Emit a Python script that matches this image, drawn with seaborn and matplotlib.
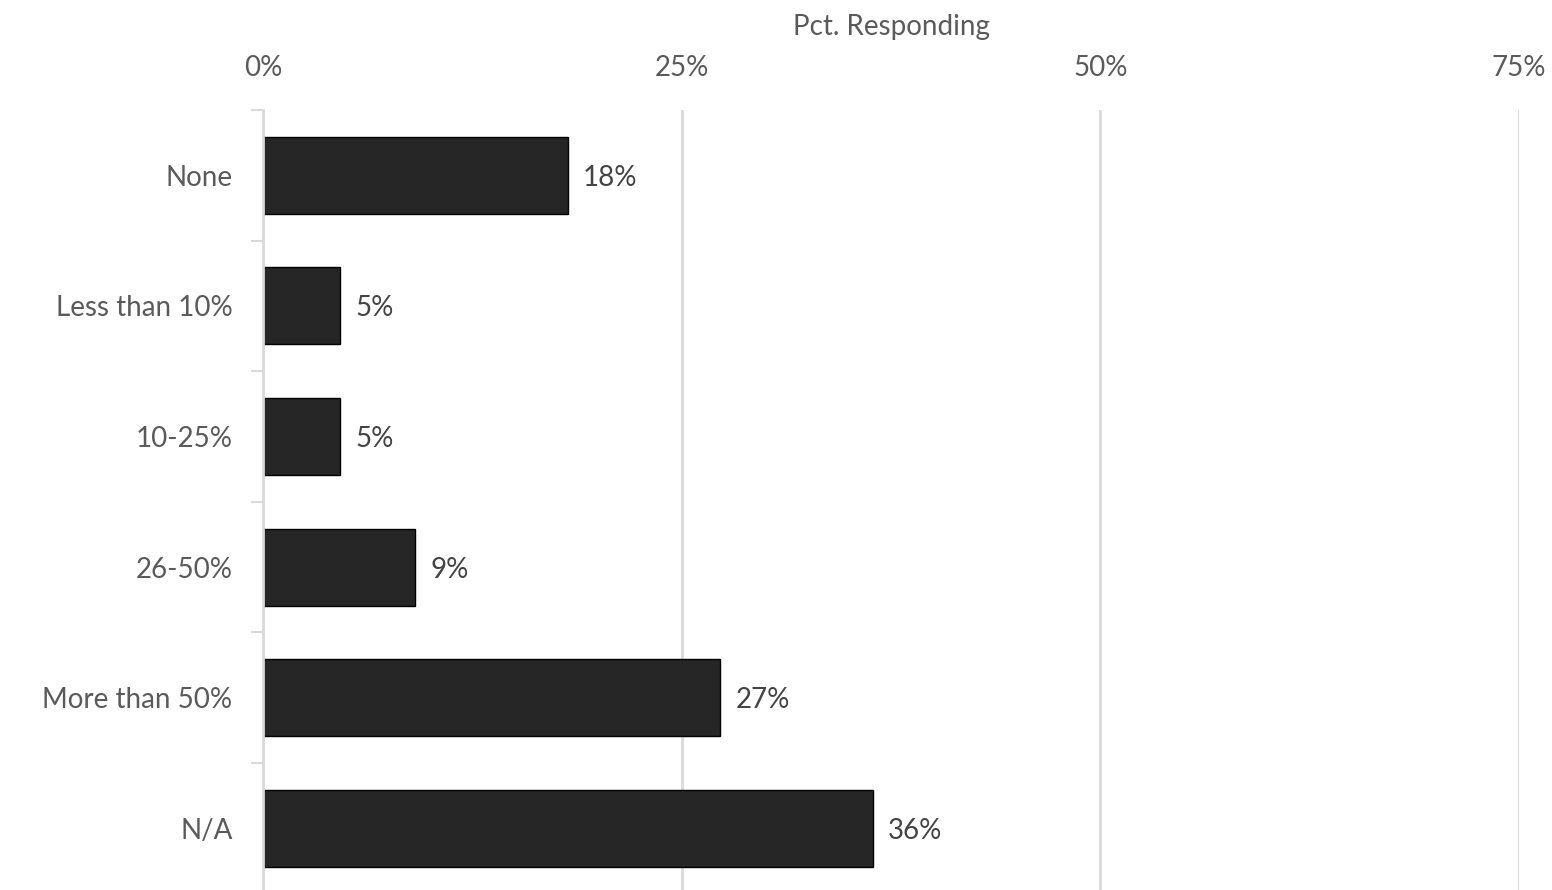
import matplotlib
matplotlib.use("Agg")
import matplotlib.pyplot as plt
import seaborn as sns
import pandas as pd
from matplotlib.ticker import FixedLocator

categories = ["None", "Less than 10%", "10-25%", "26-50%", "More than 50%", "N/A"]
values = [18.2, 4.6, 4.6, 9.1, 27.3, 36.4]
xticks = [0, 25, 50, 75]
xtick_labels = ["0%", "25%", "50%", "75%"]

df = pd.DataFrame({"category": categories, "pct": values})

sns.set_theme(style="white")
plt.rcParams["font.family"] = ["Lato", "DejaVu Sans"]
text_color = "#5a5a5a"
grid_color = "#d9d9d9"

fig = plt.figure(figsize=(15.52, 8.9), dpi=100)
ax = fig.add_axes([263 / 1552, -0.004, (1519 - 263) / 1552, 0.8764 + 0.004])

sns.barplot(data=df, x="pct", y="category", order=categories, color="#262626",
            saturation=1, width=0.59, edgecolor="black", linewidth=1, ax=ax)

ax.set_xlim(0, 75)
ax.set_ylim(len(categories) - 0.5, -0.5)

ax.xaxis.tick_top()
ax.xaxis.set_label_position("top")
ax.set_xticks(xticks)
ax.set_xticklabels(xtick_labels)
ax.tick_params(axis="x", length=0, pad=21, labelsize=20, labelcolor=text_color)
ax.set_xlabel("Pct. Responding", fontsize=20, color=text_color, labelpad=14)
ax.set_ylabel("")
ax.tick_params(axis="y", which="major", length=0, pad=22, labelsize=20, labelcolor=text_color)
ax.yaxis.set_minor_locator(FixedLocator([i - 0.5 for i in range(len(categories) + 1)]))
ax.tick_params(axis="y", which="minor", left=True, length=9, width=1.5, color=grid_color)

for x in xticks[1:]:
    ax.axvline(x, color=grid_color, linewidth=2, zorder=0)

for s in ["top", "right", "bottom"]:
    ax.spines[s].set_visible(False)
ax.spines["left"].set_color(grid_color)
ax.spines["left"].set_linewidth(2)

for i, v in enumerate(values):
    ax.annotate(f"{v:.0f}%", xy=(v, i), xytext=(11, 0), textcoords="offset points",
                va="center_baseline", ha="left", fontsize=20, color="#444444")

fig.savefig("out.png", dpi=100)
